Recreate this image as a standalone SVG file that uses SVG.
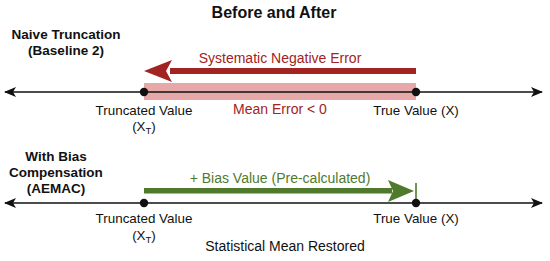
<svg xmlns="http://www.w3.org/2000/svg" width="550" height="261" viewBox="0 0 550 261">
<defs>
<style>
text{font-family:"Liberation Sans",Arial,sans-serif;fill:#111}
.b{font-weight:bold}
.t{font-size:14px}
.n{font-size:13.4px}
.h{font-size:13.5px;font-weight:bold}
.red{fill:#a32222}
.grn{fill:#4f7a2c}
.axis{stroke:#111;stroke-width:1.6;fill:none}
</style>
<marker id="ah" viewBox="0 0 12 10" refX="11" refY="5" markerWidth="12" markerHeight="10" markerUnits="userSpaceOnUse" orient="auto-start-reverse">
<path d="M0,0 L12,5 L0,10 L3,5 Z" fill="#111"/>
</marker>
</defs>
<rect width="550" height="261" fill="#fff"/>
<text x="274" y="18" text-anchor="middle" class="b" font-size="16">Before and After</text>

<g id="top-label">
<text x="66" y="39" text-anchor="middle" class="h">Naive Truncation</text>
<text x="66" y="55" text-anchor="middle" class="h">(Baseline 2)</text>
</g>

<g id="bottom-label">
<text x="56" y="161" text-anchor="middle" class="h">With Bias</text>
<text x="56" y="177" text-anchor="middle" class="h">Compensation</text>
<text x="56" y="193" text-anchor="middle" class="h">(AEMAC)</text>
</g>

<g id="error-band">
<rect x="144" y="83" width="272" height="17" fill="#e6a8a8"/>
</g>

<g id="connectors">
<line class="axis" x1="5" y1="92" x2="542" y2="92" marker-start="url(#ah)" marker-end="url(#ah)"/>
<line class="axis" x1="5" y1="203" x2="542" y2="203" marker-start="url(#ah)" marker-end="url(#ah)"/>
</g>

<g id="neg-error-arrow">
<rect x="170" y="68" width="246" height="6" fill="#a32222"/>
<path d="M144,71 L172,60 L166,71 L172,82 Z" fill="#a32222"/>
<text x="280" y="63" text-anchor="middle" class="t red">Systematic Negative Error</text>
</g>

<g id="bias-arrow">
<rect x="144" y="188" width="248" height="5.5" fill="#4f7a2c"/>
<path d="M414,191 L388,180 L393,191 L388,202 Z" fill="#4f7a2c"/>
<line x1="416" y1="183" x2="416" y2="203" stroke="#4f7a2c" stroke-width="1.6"/>
<text x="280" y="183" text-anchor="middle" class="t grn">+ Bias Value (Pre-calculated)</text>
</g>

<g id="top-truncated">
<circle cx="144" cy="92" r="4.2" fill="#111"/>
<text x="144" y="115" text-anchor="middle" class="n">Truncated Value</text>
<text x="144" y="131" text-anchor="middle" class="n">(X<tspan font-size="9.5" dy="3">T</tspan><tspan dy="-3">)</tspan></text>
</g>

<g id="top-true">
<circle cx="416" cy="92" r="4.2" fill="#111"/>
<text x="416" y="115" text-anchor="middle" class="n">True Value (X)</text>
</g>

<text x="280" y="114" text-anchor="middle" class="t red">Mean Error &lt; 0</text>

<g id="bottom-truncated">
<circle cx="144" cy="203" r="4.2" fill="#111"/>
<text x="144" y="223" text-anchor="middle" class="n">Truncated Value</text>
<text x="144" y="240" text-anchor="middle" class="n">(X<tspan font-size="9.5" dy="3">T</tspan><tspan dy="-3">)</tspan></text>
</g>

<g id="bottom-true">
<circle cx="416" cy="203" r="4.2" fill="#111"/>
<text x="416" y="223" text-anchor="middle" class="n">True Value (X)</text>
</g>

<text x="285" y="251" text-anchor="middle" class="t">Statistical Mean Restored</text>
</svg>
